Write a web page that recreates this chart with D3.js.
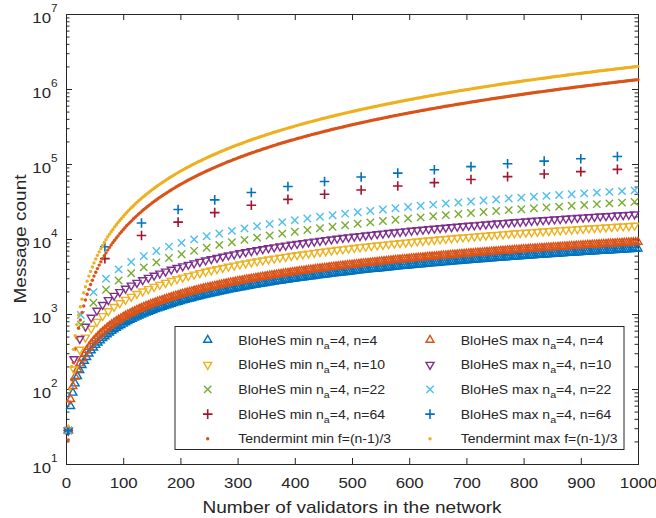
<!DOCTYPE html>
<html>
<head>
<meta charset="utf-8">
<script src="https://cdn.jsdelivr.net/npm/d3@7"></script>
<style>
  body { margin: 0; background: #fff; }
  text { font-family: "Liberation Sans", Arial, sans-serif; fill: #262626; }
</style>
</head>
<body>
<svg id="chart" width="656" height="518"></svg>
<script>
// x: number of validators in the network (each series starts at 4 and steps by its group size)
const nodes4 = d3.range(4, 1001, 4);      // 4, 8, ..., 1000
const nodes10 = d3.range(4, 1000, 10);    // 4, 14, ..., 994
const nodes22 = d3.range(4, 1000, 22);    // 4, 26, ..., 994
const nodes64 = d3.range(4, 1000, 64);    // 4, 68, ..., 964
const nodesTend = d3.range(4, 1001, 3);   // 4, 7, ..., 1000

// message counts
const bloMin4 = [
  28,59,89,118,148,178,207,237,266,296, 326,355,385,414,444,474,503,533,562,592,
  622,651,681,710,740,770,799,829,858,888, 918,947,977,1006,1036,1066,1095,1125,1154,1184,
  1214,1243,1273,1302,1332,1362,1391,1421,1450,1480, 1510,1539,1569,1598,1628,1658,1687,1717,1746,1776,
  1806,1835,1865,1894,1924,1954,1983,2013,2042,2072, 2102,2131,2161,2190,2220,2250,2279,2309,2338,2368,
  2398,2427,2457,2486,2516,2546,2575,2605,2634,2664, 2694,2723,2753,2782,2812,2842,2871,2901,2930,2960,
  2990,3019,3049,3078,3108,3138,3167,3197,3226,3256, 3286,3315,3345,3374,3404,3434,3463,3493,3522,3552,
  3582,3611,3641,3670,3700,3730,3759,3789,3818,3848, 3878,3907,3937,3966,3996,4026,4055,4085,4114,4144,
  4174,4203,4233,4262,4292,4322,4351,4381,4410,4440, 4470,4499,4529,4558,4588,4618,4647,4677,4706,4736,
  4766,4795,4825,4854,4884,4914,4943,4973,5002,5032, 5062,5091,5121,5150,5180,5210,5239,5269,5298,5328,
  5358,5387,5417,5446,5476,5506,5535,5565,5594,5624, 5654,5683,5713,5742,5772,5802,5831,5861,5890,5920,
  5950,5979,6009,6038,6068,6098,6127,6157,6186,6216, 6246,6275,6305,6334,6364,6394,6423,6453,6482,6512,
  6542,6571,6601,6630,6660,6690,6719,6749,6778,6808, 6838,6867,6897,6926,6956,6986,7015,7045,7074,7104,
  7134,7163,7193,7222,7252,7282,7311,7341,7370,7400
];
const bloMax4 = [
  28,73,109,146,182,218,255,291,328,364, 400,437,473,510,546,582,619,655,692,728,
  764,801,837,874,910,946,983,1019,1056,1092, 1128,1165,1201,1238,1274,1310,1347,1383,1420,1456,
  1492,1529,1565,1602,1638,1674,1711,1747,1784,1820, 1856,1893,1929,1966,2002,2038,2075,2111,2148,2184,
  2220,2257,2293,2330,2366,2402,2439,2475,2512,2548, 2584,2621,2657,2694,2730,2766,2803,2839,2876,2912,
  2948,2985,3021,3058,3094,3130,3167,3203,3240,3276, 3312,3349,3385,3422,3458,3494,3531,3567,3604,3640,
  3676,3713,3749,3786,3822,3858,3895,3931,3968,4004, 4040,4077,4113,4150,4186,4222,4259,4295,4332,4368,
  4404,4441,4477,4514,4550,4586,4623,4659,4696,4732, 4768,4805,4841,4878,4914,4950,4987,5023,5060,5096,
  5132,5169,5205,5242,5278,5314,5351,5387,5424,5460, 5496,5533,5569,5606,5642,5678,5715,5751,5788,5824,
  5860,5897,5933,5970,6006,6042,6079,6115,6152,6188, 6224,6261,6297,6334,6370,6406,6443,6479,6516,6552,
  6588,6625,6661,6698,6734,6770,6807,6843,6880,6916, 6952,6989,7025,7062,7098,7134,7171,7207,7244,7280,
  7316,7353,7389,7426,7462,7498,7535,7571,7608,7644, 7680,7717,7753,7790,7826,7862,7899,7935,7972,8008,
  8044,8081,8117,8154,8190,8226,8263,8299,8336,8372, 8408,8445,8481,8518,8554,8590,8627,8663,8700,8736,
  8772,8809,8845,8882,8918,8954,8991,9027,9064,9100
];
const bloMin10 = [
  28,183,335,487,639,791,943,1095,1247,1399, 1551,1703,1855,2007,2159,2311,2463,2615,2767,2919,
  3071,3223,3375,3527,3679,3831,3983,4135,4287,4439, 4591,4743,4895,5047,5199,5351,5503,5655,5807,5959,
  6111,6263,6415,6567,6719,6871,7023,7175,7327,7479, 7631,7783,7935,8087,8239,8391,8543,8695,8847,8999,
  9151,9303,9455,9607,9759,9911,10063,10215,10367,10519, 10671,10823,10975,11127,11279,11431,11583,11735,11887,12039,
  12191,12343,12495,12647,12799,12951,13103,13255,13407,13559, 13711,13863,14015,14167,14319,14471,14623,14775,14927,15079
];
const bloMax10 = [
  28,251,466,681,896,1111,1326,1541,1756,1971, 2186,2401,2616,2831,3046,3261,3476,3691,3906,4121,
  4336,4551,4766,4981,5196,5411,5626,5841,6056,6271, 6486,6701,6916,7131,7346,7561,7776,7991,8206,8421,
  8636,8851,9066,9281,9496,9711,9926,10141,10356,10571, 10786,11001,11216,11431,11646,11861,12076,12291,12506,12721,
  12936,13151,13366,13581,13796,14011,14226,14441,14656,14871, 15086,15301,15516,15731,15946,16161,16376,16591,16806,17021,
  17236,17451,17666,17881,18096,18311,18526,18741,18956,19171, 19386,19601,19816,20031,20246,20461,20676,20891,21106,21321
];
const bloMin22 = [
  28,719,1412,2105,2798,3491,4184,4877,5570,6263,6956,7649,8342,9035,9728,10421,
  11114,11807,12500,13193,13886,14579,15272,15965,16658,17351,18044,18737,19430,20123,
  20816,21509,22202,22895,23588,24281,24974,25667,26360,27053,27746,28439,29132,29825,30518,31211
];
const bloMax22 = [
  28,970,1960,2950,3940,4930,5920,6910,7900,8890,9880,10870,11860,12850,13840,14830,
  15820,16810,17800,18790,19780,20770,21760,22750,23740,24730,25720,26710,27700,28690,
  29680,30670,31660,32650,33640,34630,35620,36610,37600,38590,39580,40570,41560,42550,43540,44530
];
const bloMin64 = [28,5468,11132,16796,22460,28124,33788,39452,45116,50780,56444,62108,67772,73436,79100,84764];
const bloMax64 = [28,7876,16324,24772,33220,41668,50116,58564,67012,75460,83908,92356,100804,109252,117700,126148];
const tendMin = [
  21,65,133,225,341,481,645,833,1050,1280, 1540,1830,2130,2470,2820,3200,3610,4030,4490,4960,
  5460,5990,6530,7110,7700,8320,8970,9630,10300,11000, 11800,12500,13300,14100,15000,15800,16700,17600,18600,19500,
  20500,21500,22500,23600,24700,25800,26900,28000,29200,30400, 31600,32900,34100,35400,36700,38100,39400,40800,42200,43700,
  45100,46600,48100,49700,51200,52800,54400,56000,57700,59400, 61100,62800,64500,66300,68100,69900,71800,73600,75500,77400,
  79400,81300,83300,85300,87400,89400,91500,93600,95800,97900, 100000,102000,105000,107000,109000,111000,114000,116000,118000,121000,
  123000,126000,128000,131000,133000,136000,138000,141000,143000,146000, 149000,151000,154000,157000,160000,162000,165000,168000,171000,174000,
  177000,180000,183000,186000,189000,192000,195000,198000,201000,204000, 207000,210000,213000,217000,220000,223000,226000,230000,233000,236000,
  240000,243000,247000,250000,253000,257000,260000,264000,268000,271000, 275000,278000,282000,286000,290000,293000,297000,301000,305000,308000,
  312000,316000,320000,324000,328000,332000,336000,340000,344000,348000, 352000,356000,361000,365000,369000,373000,377000,382000,386000,390000,
  395000,399000,403000,408000,412000,417000,421000,426000,430000,435000, 439000,444000,449000,453000,458000,463000,467000,472000,477000,482000,
  486000,491000,496000,501000,506000,511000,516000,521000,526000,531000, 536000,541000,546000,551000,556000,562000,567000,572000,577000,583000,
  588000,593000,599000,604000,609000,615000,620000,626000,631000,637000, 642000,648000,653000,659000,665000,670000,676000,682000,687000,693000,
  699000,705000,711000,716000,722000,728000,734000,740000,746000,752000, 758000,764000,770000,776000,782000,788000,795000,801000,807000,813000,
  820000,826000,832000,838000,845000,851000,858000,864000,870000,877000, 883000,890000,897000,903000,910000,916000,923000,930000,936000,943000,
  950000,957000,963000,970000,977000,984000,991000,998000,1005000,1012000, 1019000,1026000,1033000,1040000,1047000,1054000,1061000,1068000,1075000,1082000,
  1090000,1097000,1104000,1111000,1119000,1126000,1133000,1141000,1148000,1156000, 1163000,1171000,1178000,1186000,1193000,1201000,1208000,1216000,1224000,1231000,
  1239000,1247000,1255000,1262000,1270000,1278000,1286000,1294000,1302000,1309000, 1317000,1325000,1333000
];
const tendMax = [
  32,98,200,338,512,722,968,1250,1570,1920, 2310,2740,3200,3700,4230,4800,5410,6050,6730,7440,
  8190,8980,9800,10700,11600,12500,13400,14500,15500,16600, 17700,18800,20000,21200,22500,23800,25100,26500,27800,29300,
  30800,32300,33800,35400,37000,38600,40300,42100,43800,45600, 47400,49300,51200,53100,55100,57100,59200,61300,63400,65500,
  67700,69900,72200,74500,76800,79200,81600,84100,86500,89000, 91600,94200,96800,99500,102000,105000,108000,110000,113000,116000,
  119000,122000,125000,128000,131000,134000,137000,140000,144000,147000, 150000,153000,157000,160000,164000,167000,171000,174000,178000,181000,
  185000,188000,192000,196000,200000,204000,207000,211000,215000,219000, 223000,227000,231000,235000,239000,244000,248000,252000,256000,261000,
  265000,269000,274000,278000,283000,287000,292000,296000,301000,306000, 310000,315000,320000,325000,330000,335000,339000,344000,349000,354000,
  360000,365000,370000,375000,380000,385000,391000,396000,401000,407000, 412000,418000,423000,429000,434000,440000,446000,451000,457000,463000,
  469000,474000,480000,486000,492000,498000,504000,510000,516000,522000, 528000,535000,541000,547000,553000,560000,566000,572000,579000,585000,
  592000,598000,605000,612000,618000,625000,632000,638000,645000,652000, 659000,666000,673000,680000,687000,694000,701000,708000,715000,722000,
  730000,737000,744000,752000,759000,766000,774000,781000,789000,796000, 804000,812000,819000,827000,835000,842000,850000,858000,866000,874000,
  882000,890000,898000,906000,914000,922000,930000,938000,947000,955000, 963000,972000,980000,988000,997000,1005000,1014000,1022000,1031000,1040000,
  1048000,1057000,1066000,1075000,1083000,1092000,1101000,1110000,1119000,1128000, 1137000,1146000,1155000,1164000,1174000,1183000,1192000,1201000,1211000,1220000,
  1229000,1239000,1248000,1258000,1267000,1277000,1286000,1296000,1306000,1315000, 1325000,1335000,1345000,1355000,1365000,1374000,1384000,1394000,1404000,1415000,
  1425000,1435000,1445000,1455000,1465000,1476000,1486000,1496000,1507000,1517000, 1528000,1538000,1549000,1559000,1570000,1581000,1591000,1602000,1613000,1624000,
  1634000,1645000,1656000,1667000,1678000,1689000,1700000,1711000,1722000,1734000, 1745000,1756000,1767000,1778000,1790000,1801000,1813000,1824000,1836000,1847000,
  1859000,1870000,1882000,1893000,1905000,1917000,1929000,1940000,1952000,1964000, 1976000,1988000,2000000
];

// tick labels
const xTicks = [0, 100, 200, 300, 400, 500, 600, 700, 800, 900, 1000];
const yExponents = [1, 2, 3, 4, 5, 6, 7];

const series = [
  { label: ["BloHeS min n", "a", "=4, n=4"], x: nodes4, y: bloMin4, color: "#0072BD", shape: "up" },
  { label: ["BloHeS max n", "a", "=4, n=4"], x: nodes4, y: bloMax4, color: "#D95319", shape: "up" },
  { label: ["BloHeS min n", "a", "=4, n=10"], x: nodes10, y: bloMin10, color: "#EDB120", shape: "down" },
  { label: ["BloHeS max n", "a", "=4, n=10"], x: nodes10, y: bloMax10, color: "#7E2F8E", shape: "down" },
  { label: ["BloHeS min n", "a", "=4, n=22"], x: nodes22, y: bloMin22, color: "#77AC30", shape: "cross" },
  { label: ["BloHeS max n", "a", "=4, n=22"], x: nodes22, y: bloMax22, color: "#4DBEEE", shape: "cross" },
  { label: ["BloHeS min n", "a", "=4, n=64"], x: nodes64, y: bloMin64, color: "#A2142F", shape: "plus" },
  { label: ["BloHeS max n", "a", "=4, n=64"], x: nodes64, y: bloMax64, color: "#0072BD", shape: "plus" },
  { label: ["Tendermint min f=(n-1)/3"], x: nodesTend, y: tendMin, color: "#D95319", shape: "dot" },
  { label: ["Tendermint max f=(n-1)/3"], x: nodesTend, y: tendMax, color: "#EDB120", shape: "dot" }
];

const svg = d3.select("#chart");
const plotL = 66, plotR = 638, plotT = 14, plotB = 464;
const stretch = 1.12; // the reference font is a bit wider than Arial

const x = d3.scaleLinear().domain([0, 1000]).range([plotL, plotR]);
const y = d3.scaleLog().domain([10, 1e7]).range([plotB, plotT]);

const minorTicks = y.ticks().filter(v => Math.abs(Math.log10(v) % 1) > 1e-6);
const majorTicks = yExponents.map(e => Math.pow(10, e));

function styleAxis(g) {
  g.select(".domain").attr("stroke", "#262626").attr("stroke-width", 1).attr("shape-rendering", "crispEdges");
  g.selectAll(".tick line").attr("stroke", "#262626").attr("stroke-width", 1);
}

// bottom axis
svg.append("g")
  .attr("transform", `translate(0,${plotB})`)
  .call(d3.axisBottom(x).tickValues(xTicks).tickFormat(d3.format("d"))
    .tickSizeInner(-6).tickSizeOuter(0).tickPadding(13.4))
  .call(styleAxis)
  .call(g => g.selectAll(".tick text")
    .attr("transform", `scale(${stretch},1)`)
    .style("font-size", "15px").attr("fill", "#262626"));

// top axis
svg.append("g")
  .attr("transform", `translate(0,${plotT})`)
  .call(d3.axisTop(x).tickValues(xTicks).tickSizeInner(-6).tickSizeOuter(0).tickFormat(""))
  .call(styleAxis);

// left and right axes, major + minor ticks
[[plotL, d3.axisLeft], [plotR, d3.axisRight]].forEach(([pos, axisFn]) => {
  svg.append("g")
    .attr("transform", `translate(${pos},0)`)
    .call(axisFn(y).tickValues(majorTicks).tickSizeInner(-6).tickSizeOuter(0).tickFormat(""))
    .call(styleAxis);
  svg.append("g")
    .attr("transform", `translate(${pos},0)`)
    .call(axisFn(y).tickValues(minorTicks).tickSizeInner(-3.5).tickSizeOuter(0).tickFormat(""))
    .call(styleAxis)
    .call(g => g.select(".domain").remove());
});

// y tick labels 10^k
const yLab = svg.append("g").selectAll("text")
  .data(yExponents)
  .join("text")
  .attr("transform", e => `translate(57.5,${y(Math.pow(10, e)) + 9}) scale(${stretch},1)`)
  .attr("text-anchor", "end")
  .style("font-size", "15px");
yLab.append("tspan").text("10");
yLab.append("tspan").attr("dy", -11).style("font-size", "10.5px").text(e => e);

// axis titles
svg.append("text")
  .attr("transform", `translate(${(plotL + plotR) / 2},513) scale(${stretch},1)`)
  .attr("text-anchor", "middle")
  .style("font-size", "17px")
  .text("Number of validators in the network");

svg.append("text")
  .attr("transform", `translate(26,${(plotT + plotB) / 2}) rotate(-90) scale(${stretch},1)`)
  .attr("text-anchor", "middle")
  .style("font-size", "17px")
  .text("Message count");

// marker drawing
function marker(sel, shape, color) {
  if (shape === "dot") {
    sel.append("circle").attr("r", 1.7).attr("fill", color);
    return;
  }
  const paths = {
    up: "M0,-4.6L4,2.3L-4,2.3Z",
    down: "M0,4.6L4,-2.3L-4,-2.3Z",
    cross: "M-3.7,-3.7L3.7,3.7M-3.7,3.7L3.7,-3.7",
    plus: "M-4.8,0H4.8M0,-4.8V4.8"
  };
  sel.append("path")
    .attr("d", paths[shape])
    .attr("fill", "none")
    .attr("stroke", color)
    .attr("stroke-width", shape === "plus" ? 1.6 : 1.4);
}

const plot = svg.append("g");
series.forEach(s => {
  const pts = s.x.map((v, i) => [v, s.y[i]]);
  plot.append("g").selectAll("g")
    .data(pts)
    .join("g")
    .attr("transform", d => `translate(${x(d[0])},${y(d[1])})`)
    .each(function() { marker(d3.select(this), s.shape, s.color); });
});

// legend (two columns, filled row by row)
const legend = svg.append("g");
legend.append("rect")
  .attr("x", 175).attr("y", 326.5)
  .attr("width", 449).attr("height", 123)
  .attr("fill", "#fff").attr("stroke", "#262626").attr("stroke-width", 1);

series.forEach((s, i) => {
  const col = i % 2, row = Math.floor(i / 2);
  const ry = 340 + row * 24.7;
  const mx = col === 0 ? 207.7 : 430;
  const tx = col === 0 ? 238.3 : 460.7;
  marker(legend.append("g").attr("transform", `translate(${mx},${ry})`), s.shape, s.color);
  const t = legend.append("text")
    .attr("transform", `translate(${tx},${ry + 4.5}) scale(${stretch},1)`)
    .style("font-size", "12.5px");
  t.append("tspan").text(s.label[0]);
  if (s.label.length > 1) {
    t.append("tspan").attr("dy", 4).style("font-size", "9.5px").text(s.label[1]);
    t.append("tspan").attr("dy", -4).text(s.label[2]);
  }
});
</script>
</body>
</html>
